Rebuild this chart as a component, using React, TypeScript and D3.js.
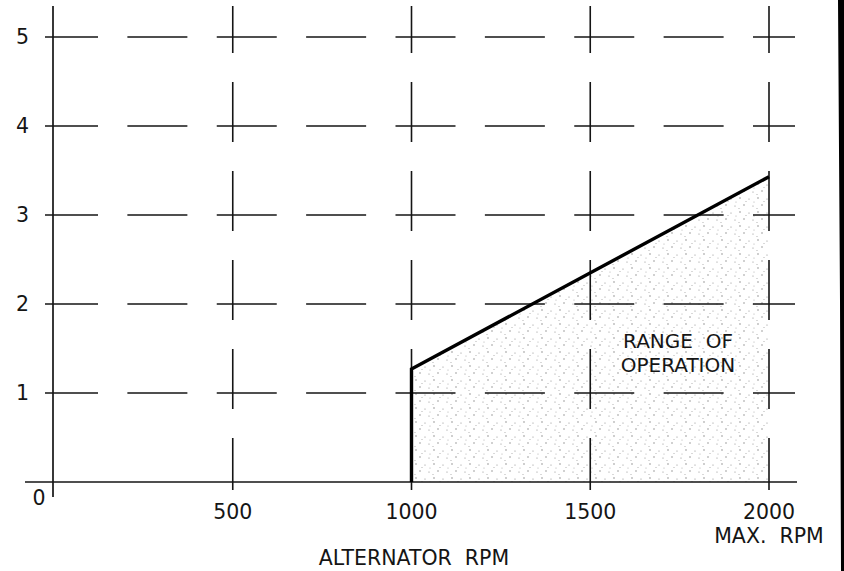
import React from "react";
import * as d3 from "d3";

const W = 844;
const H = 571;

// Data
const xTickValues = [500, 1000, 1500, 2000];
const xTickLabels = ["500", "1000", "1500", "2000"];
const yTickValues = [1, 2, 3, 4, 5];
const yTickLabels = ["1", "2", "3", "4", "5"];
const boundaryRpm = [1000, 1000, 2000];
const boundaryValue = [0, 1.27, 3.43];
const xDashSteps = d3.range(0, 2001, 250);
const yDashSteps = [0, 1, 2, 3, 4, 5];

const FONT = "'DejaVu Sans', sans-serif";
const INK = "#151515";

export default function App() {
  const x = d3.scaleLinear().domain([0, 2000]).range([54, 769]);
  const y = d3.scaleLinear().domain([0, 5]).range([482, 37]);

  const pts: [number, number][] = boundaryRpm.map((r, i) => [r, boundaryValue[i]]);
  const upper = pts.slice(1);
  const area = d3
    .area<[number, number]>()
    .x((d) => x(d[0]))
    .y0(() => y(0))
    .y1((d) => y(d[1]));
  const line = d3
    .line<[number, number]>()
    .x((d) => x(d[0]))
    .y((d) => y(d[1]));

  const hLeft = 45;
  const hRight = 795;
  const vTop = 6;
  const vBottom = 490;

  const hDashes: { y: number; x1: number; x2: number; k: string }[] = [];
  yTickValues.forEach((v) => {
    xDashSteps.forEach((s) => {
      const a = Math.max(hLeft, x(s) - 16);
      const b = Math.min(hRight, x(s) + 44);
      if (b > a) hDashes.push({ y: y(v), x1: a, x2: b, k: `h${v}-${s}` });
    });
  });
  const vDashes: { x: number; y1: number; y2: number; k: string }[] = [];
  xTickValues.forEach((v) => {
    yDashSteps.forEach((s) => {
      const a = Math.max(vTop, y(s) - 44);
      const b = Math.min(vBottom, y(s) + 16);
      if (b > a) vDashes.push({ x: x(v), y1: a, y2: b, k: `v${v}-${s}` });
    });
  });

  return (
    <svg
      width={W}
      height={H}
      style={{ position: "absolute", left: 0, top: 0, background: "#fff" }}
    >
      <defs>
        <pattern id="stipple" width="18" height="14" patternUnits="userSpaceOnUse">
          <circle cx="2" cy="2" r="0.7" fill="#7a7a7a" />
          <circle cx="11" cy="3" r="0.6" fill="#8a8a8a" />
          <circle cx="6" cy="9" r="0.7" fill="#808080" />
          <circle cx="15" cy="10" r="0.6" fill="#8a8a8a" />
          <circle cx="8" cy="5.5" r="0.5" fill="#9a9a9a" />
          <circle cx="16" cy="6" r="0.5" fill="#9a9a9a" />
          <circle cx="1" cy="12.5" r="0.5" fill="#9a9a9a" />
        </pattern>
      </defs>
      <rect width={W} height={H} fill="#fff" />

      <path d={area(upper) || ""} fill="url(#stipple)" />

      {hDashes.map((d) => (
        <line key={d.k} x1={d.x1} x2={d.x2} y1={d.y} y2={d.y} stroke={INK} strokeWidth={1.6} />
      ))}
      {vDashes.map((d) => (
        <line key={d.k} x1={d.x} x2={d.x} y1={d.y1} y2={d.y2} stroke={INK} strokeWidth={1.6} />
      ))}

      <line x1={x(0) - 1} x2={x(0) - 1} y1={vTop} y2={497} stroke={INK} strokeWidth={1.7} />
      <line x1={25} x2={797} y1={y(0)} y2={y(0)} stroke={INK} strokeWidth={1.7} />

      <path d={line(pts) || ""} fill="none" stroke="#000" strokeWidth={3.4} strokeLinejoin="miter" />

      {yTickValues.map((v, i) => (
        <text key={`yl${v}`} x={29} y={y(v)} dy="0.36em" textAnchor="end" fontFamily={FONT} fontSize={20.5} fill={INK}>
          {yTickLabels[i]}
        </text>
      ))}
      <text x={39} y={y(0) + 16} dy="0.36em" textAnchor="middle" fontFamily={FONT} fontSize={20.5} fill={INK}>
        0
      </text>

      {xTickValues.map((v, i) => (
        <text key={`xl${v}`} x={x(v)} y={519} textAnchor="middle" fontFamily={FONT} fontSize={20.5} fill={INK}>
          {xTickLabels[i]}
        </text>
      ))}
      <text x={x(2000)} y={543} textAnchor="middle" fontFamily={FONT} fontSize={20.5} fill={INK} style={{ whiteSpace: "pre" }}>
        {"MAX.  RPM"}
      </text>
      <text x={414} y={565} textAnchor="middle" fontFamily={FONT} fontSize={20.5} fill={INK} style={{ whiteSpace: "pre" }}>
        {"ALTERNATOR  RPM"}
      </text>

      <text x={678} y={348} textAnchor="middle" fontFamily={FONT} fontSize={20} fill={INK} style={{ whiteSpace: "pre" }}>
        {"RANGE  OF"}
      </text>
      <text x={678} y={372} textAnchor="middle" fontFamily={FONT} fontSize={20} fill={INK}>
        OPERATION
      </text>

      <path d={`M838,0 L844,0 L844,${H} L841,${H} L840,300 Z`} fill="#000" />
    </svg>
  );
}
